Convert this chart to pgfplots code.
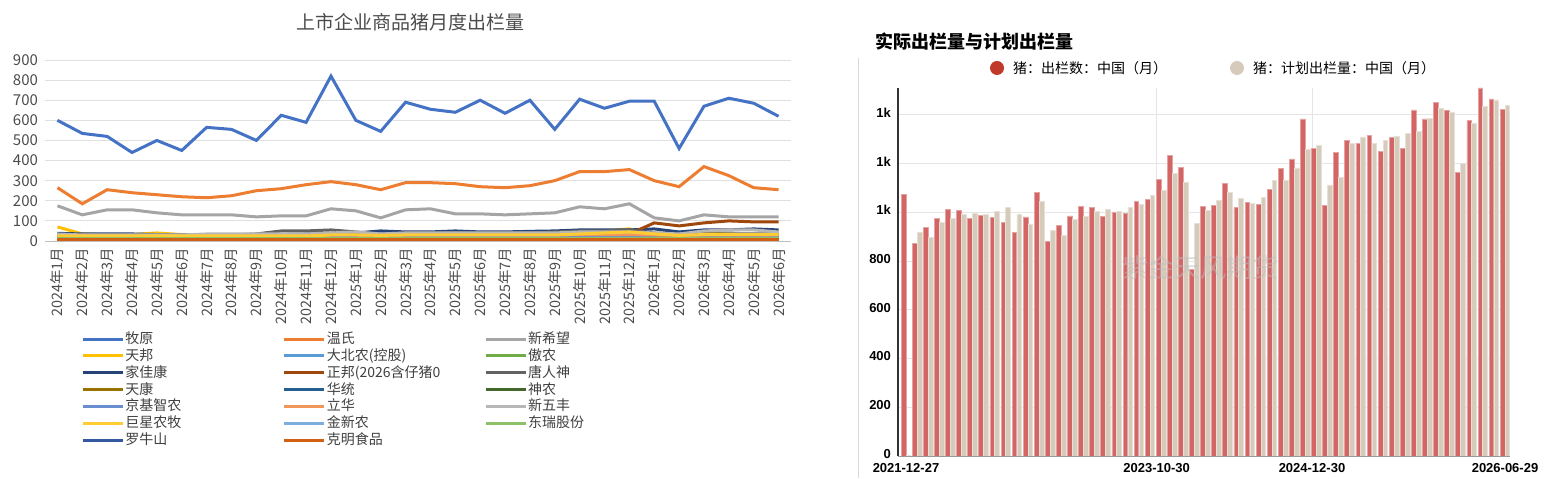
\documentclass[border=0pt]{standalone}
\usepackage{pgfplots}
\pgfplotsset{compat=1.18}
\usepackage{fontspec}
\setmainfont{Noto Sans CJK SC}
\newfontfamily\arial{Liberation Sans}
\definecolor{c1}{HTML}{4472C4}\definecolor{c2}{HTML}{ED7D31}\definecolor{c3}{HTML}{A5A5A5}
\definecolor{c4}{HTML}{FFC000}\definecolor{c5}{HTML}{5B9BD5}\definecolor{c6}{HTML}{70AD47}
\definecolor{c7}{HTML}{264478}\definecolor{c8}{HTML}{9E480E}\definecolor{c9}{HTML}{636363}
\definecolor{c10}{HTML}{997300}\definecolor{c11}{HTML}{255E91}\definecolor{c12}{HTML}{43682B}
\definecolor{c13}{HTML}{698ED0}\definecolor{c14}{HTML}{F1975A}\definecolor{c15}{HTML}{B7B7B7}
\definecolor{c16}{HTML}{FFCD33}\definecolor{c17}{HTML}{7CAFDD}\definecolor{c18}{HTML}{8CC168}
\definecolor{c19}{HTML}{335AA1}\definecolor{c20}{HTML}{D26012}
\definecolor{rbar}{HTML}{D46565}\definecolor{bbar}{HTML}{D6CBBB}\definecolor{rdot}{HTML}{C0392B}
\begin{document}
\begin{tikzpicture}[x=1pt,y=1pt]
\path (0pt,0pt) rectangle (778pt,239pt);
\node[font=\fontsize{9.5}{10}\selectfont, text=black!70] at (205pt,228pt) {上市企业商品猪月度出栏量};
\begin{axis}[name=L, at={(22.5pt,118.5pt)}, anchor=south west, scale only axis,
 width=373pt, height=90.5pt, xmin=-0.5, xmax=29.5, ymin=0, ymax=900,
 ytick={0,100,...,900}, ymajorgrids, grid style={black!12},
 axis line style={draw=none}, axis x line*=bottom, x axis line style={draw=black!25},
 tick style={draw=none}, xtick={0,...,29},
 xticklabels={2024年1月,2024年2月,2024年3月,2024年4月,2024年5月,2024年6月,2024年7月,2024年8月,2024年9月,2024年10月,2024年11月,2024年12月,2025年1月,2025年2月,2025年3月,2025年4月,2025年5月,2025年6月,2025年7月,2025年8月,2025年9月,2025年10月,2025年11月,2025年12月,2026年1月,2026年2月,2026年3月,2026年4月,2026年5月,2026年6月},
 x tick label style={rotate=90, anchor=east, font=\fontsize{7.2}{7}\selectfont, text=black!70},
 y tick label style={font=\fontsize{7.5}{8}\selectfont, text=black!70},
 /pgf/number format/assume math mode=true,
 legend columns=3,
 legend style={at={(0.04,-0.47)}, anchor=north west, draw=none, font=\fontsize{7}{8}\selectfont,
   nodes={text width=78pt, inner sep=0.6pt, text=black!75}, row sep=-0.2pt},
 legend image code/.code={\draw[#1, line width=1.5pt] (0pt,0pt) -- (20pt,0pt);},
 every axis plot/.append style={line width=1.5pt, mark=none},
]
\addplot[c1] coordinates {(0,600)(1,535)(2,520)(3,440)(4,500)(5,450)(6,565)(7,555)(8,500)(9,625)(10,590)(11,820)(12,600)(13,545)(14,690)(15,655)(16,640)(17,700)(18,635)(19,700)(20,555)(21,705)(22,660)(23,695)(24,695)(25,460)(26,670)(27,710)(28,685)(29,620)};
\addplot[c2] coordinates {(0,265)(1,185)(2,255)(3,240)(4,230)(5,220)(6,215)(7,225)(8,250)(9,260)(10,280)(11,295)(12,280)(13,255)(14,290)(15,290)(16,285)(17,270)(18,265)(19,275)(20,300)(21,345)(22,345)(23,355)(24,300)(25,270)(26,370)(27,325)(28,265)(29,255)};
\addplot[c3] coordinates {(0,175)(1,130)(2,155)(3,155)(4,140)(5,130)(6,130)(7,130)(8,120)(9,125)(10,125)(11,160)(12,150)(13,115)(14,155)(15,160)(16,135)(17,135)(18,130)(19,135)(20,140)(21,170)(22,160)(23,185)(24,115)(25,100)(26,130)(27,120)(28,120)(29,120)};
\addplot[c4] coordinates {(0,70)(1,35)(2,30)(3,32)(4,40)(5,32)(6,30)(7,30)(8,30)(9,30)(10,30)(11,30)(12,30)(13,30)(14,32)(15,33)(16,35)(17,35)(18,30)(19,30)(20,35)(21,40)(22,50)(23,60)(24,35)(25,25)(26,40)(27,35)(28,30)(29,28)};
\addplot[c5] coordinates {(0,20)(1,18)(2,18)(3,18)(4,18)(5,18)(6,18)(7,18)(8,18)(9,22)(10,22)(11,22)(12,20)(13,18)(14,20)(15,20)(16,20)(17,20)(18,20)(19,22)(20,22)(21,22)(22,22)(23,22)(24,20)(25,18)(26,20)(27,20)(28,20)(29,20)};
\addplot[c6] coordinates {(0,30)(1,25)(2,22)(3,20)(4,20)(5,20)(6,20)(7,20)(8,20)(9,20)(10,20)(11,20)(12,20)(13,18)(14,20)(15,20)(16,20)(17,20)(18,20)(19,20)(20,20)(21,25)(22,25)(23,30)(24,25)(25,20)(26,25)(27,25)(28,25)(29,25)};
\addplot[c7] coordinates {(0,38)(1,35)(2,35)(3,35)(4,32)(5,30)(6,32)(7,32)(8,32)(9,33)(10,35)(11,38)(12,40)(13,50)(14,45)(15,45)(16,50)(17,45)(18,45)(19,48)(20,50)(21,55)(22,55)(23,55)(24,60)(25,45)(26,55)(27,55)(28,60)(29,55)};
\addplot[c8] coordinates {(0,15)(1,15)(2,15)(3,15)(4,15)(5,15)(6,15)(7,15)(8,15)(9,15)(10,15)(11,15)(12,15)(13,15)(14,15)(15,15)(16,15)(17,15)(18,15)(19,15)(20,15)(21,15)(22,20)(23,35)(24,90)(25,75)(26,90)(27,100)(28,95)(29,95)};
\addplot[c9] coordinates {(0,30)(1,30)(2,30)(3,30)(4,30)(5,30)(6,30)(7,30)(8,35)(9,50)(10,50)(11,55)(12,45)(13,35)(14,40)(15,40)(16,40)(17,40)(18,40)(19,40)(20,45)(21,50)(22,50)(23,55)(24,40)(25,35)(26,35)(27,35)(28,35)(29,35)};
\addplot[c10] coordinates {(0,25)(1,22)(2,22)(3,22)(4,22)(5,22)(6,22)(7,22)(8,22)(9,30)(10,30)(11,30)(12,28)(13,22)(14,25)(15,25)(16,25)(17,25)(18,25)(19,25)(20,28)(21,30)(22,30)(23,35)(24,28)(25,22)(26,28)(27,28)(28,28)(29,28)};
\addplot[c11] coordinates {(0,20)(1,20)(2,20)(3,20)(4,20)(5,20)(6,20)(7,20)(8,20)(9,22)(10,22)(11,22)(12,25)(13,25)(14,28)(15,28)(16,28)(17,28)(18,28)(19,30)(20,30)(21,30)(22,30)(23,30)(24,30)(25,28)(26,30)(27,30)(28,30)(29,30)};
\addplot[c12] coordinates {(0,18)(1,18)(2,18)(3,18)(4,18)(5,18)(6,18)(7,18)(8,18)(9,18)(10,18)(11,18)(12,18)(13,18)(14,18)(15,18)(16,18)(17,18)(18,18)(19,18)(20,20)(21,20)(22,20)(23,20)(24,20)(25,18)(26,20)(27,20)(28,20)(29,20)};
\addplot[c13] coordinates {(0,15)(1,15)(2,15)(3,15)(4,15)(5,15)(6,15)(7,15)(8,15)(9,15)(10,15)(11,15)(12,15)(13,15)(14,15)(15,15)(16,15)(17,15)(18,15)(19,15)(20,15)(21,15)(22,15)(23,15)(24,15)(25,15)(26,15)(27,15)(28,15)(29,15)};
\addplot[c14] coordinates {(0,30)(1,28)(2,28)(3,28)(4,28)(5,28)(6,28)(7,28)(8,28)(9,28)(10,28)(11,30)(12,30)(13,28)(14,30)(15,30)(16,30)(17,30)(18,30)(19,30)(20,30)(21,32)(22,32)(23,32)(24,30)(25,28)(26,30)(27,30)(28,30)(29,30)};
\addplot[c15] coordinates {(0,35)(1,30)(2,30)(3,30)(4,30)(5,30)(6,35)(7,35)(8,35)(9,35)(10,35)(11,40)(12,45)(13,35)(14,40)(15,40)(16,40)(17,40)(18,40)(19,40)(20,40)(21,45)(22,45)(23,45)(24,40)(25,35)(26,50)(27,55)(28,55)(29,45)};
\addplot[c16] coordinates {(0,25)(1,25)(2,25)(3,25)(4,25)(5,25)(6,25)(7,25)(8,25)(9,25)(10,25)(11,30)(12,30)(13,28)(14,30)(15,30)(16,30)(17,30)(18,30)(19,30)(20,30)(21,35)(22,40)(23,45)(24,35)(25,28)(26,32)(27,32)(28,32)(29,32)};
\addplot[c17] coordinates {(0,10)(1,10)(2,10)(3,10)(4,10)(5,10)(6,10)(7,10)(8,10)(9,10)(10,10)(11,10)(12,10)(13,10)(14,10)(15,10)(16,10)(17,10)(18,10)(19,10)(20,10)(21,10)(22,10)(23,10)(24,10)(25,10)(26,10)(27,10)(28,10)(29,10)};
\addplot[c18] coordinates {(0,10)(1,10)(2,10)(3,10)(4,10)(5,10)(6,10)(7,10)(8,10)(9,10)(10,10)(11,10)(12,10)(13,10)(14,10)(15,10)(16,10)(17,10)(18,10)(19,10)(20,10)(21,10)(22,10)(23,10)(24,10)(25,10)(26,10)(27,10)(28,10)(29,10)};
\addplot[c19] coordinates {(0,8)(1,8)(2,8)(3,8)(4,8)(5,8)(6,8)(7,8)(8,8)(9,8)(10,8)(11,8)(12,8)(13,8)(14,8)(15,8)(16,8)(17,8)(18,8)(19,8)(20,8)(21,8)(22,8)(23,8)(24,8)(25,8)(26,8)(27,8)(28,8)(29,8)};
\addplot[c20] coordinates {(0,5)(1,5)(2,5)(3,5)(4,5)(5,5)(6,5)(7,5)(8,5)(9,5)(10,5)(11,5)(12,5)(13,5)(14,5)(15,5)(16,5)(17,5)(18,5)(19,5)(20,5)(21,5)(22,5)(23,5)(24,5)(25,5)(26,5)(27,5)(28,5)(29,5)};
\legend{牧原,温氏,新希望,天邦,大北农(控股),傲农,家佳康,正邦(2026含仔猪0,唐人神,天康,华统,神农,京基智农,立华,新五丰,巨星农牧,金新农,东瑞股份,罗牛山,克明食品}
\end{axis}
% right chart
\draw[black!15] (429pt,0pt) -- (429pt,210pt);
\node[anchor=west, font=\fontsize{9}{10}\selectfont\bfseries] at (434pt,218pt) {实际出栏量与计划出栏量};
\fill[rdot] (498.5pt,205pt) circle (3.5pt);
\node[anchor=west, font=\fontsize{7}{8}\selectfont] at (503pt,205pt) {猪：出栏数：中国（月）};
\fill[bbar] (618.5pt,205pt) circle (3.5pt);
\node[anchor=west, font=\fontsize{7}{8}\selectfont] at (623pt,205pt) {猪：计划出栏量：中国（月）};
\begin{axis}[at={(449pt,11pt)}, anchor=south west, scale only axis, width=306pt, height=184pt,
 xmin=-0.72, xmax=54.45, ymin=0, ymax=1510,
 ytick={0,200,...,1400}, yticklabels={0,200,400,600,800,1k,1k,1k},
 ymajorgrids, grid style={black!10},
 xtick={0,22.6,36.6,54}, xticklabels={2021-12-27,2023-10-30,2024-12-30,2026-06-29},
 extra x ticks={22.6,36.6}, extra x tick labels={}, extra x tick style={grid=major},
 axis x line*=bottom, axis y line*=left, x axis line style={draw=black!40},
 y axis line style={draw=black!80, line width=0.8pt},
 tick style={draw=none},
 x tick label style={font=\arial\bfseries\fontsize{6.5}{7}\selectfont, yshift=0pt},
 y tick label style={font=\arial\bfseries\fontsize{6.5}{7}\selectfont, yshift=1pt},
 /pgf/number format/assume math mode=true,
]
\addplot[ybar, bar width=0.43, bar shift=-0.22, fill=rbar, draw=rbar!60!white] coordinates {
(0,1074)(1,871)(2,939)(3,976)(4,1013)(5,1007)(6,973)(7,987)(8,979)(9,960)(10,917)(11,981)(12,1082)(13,879)(14,947)(15,985)(16,1025)(17,1021)(18,984)(19,999)(20,994)(21,1044)(22,1051)(23,1136)(24,1235)(25,1183)(26,764)(27,1024)(28,1029)(29,1119)(30,1018)(31,1039)(32,1031)(33,1095)(34,1181)(35,1219)(36,1383)(37,1262)(38,1028)(39,1245)(40,1294)(41,1282)(42,1315)(43,1250)(44,1308)(45,1263)(46,1420)(47,1383)(48,1451)(49,1418)(50,1163)(51,1377)(52,1510)(53,1465)(54,1422)};
\addplot[ybar, bar width=0.43, bar shift=0.22, fill=bbar, draw=bbar!60!white] coordinates {
(0,2)(1,916)(2,897)(3,960)(4,973)(5,991)(6,996)(7,992)(8,1003)(9,1018)(10,991)(11,949)(12,1043)(13,925)(14,905)(15,969)(16,983)(17,1002)(18,1010)(19,1002)(20,1018)(21,1031)(22,1069)(23,1091)(24,1158)(25,1121)(26,956)(27,1006)(28,1047)(29,1080)(30,1055)(31,1036)(32,1062)(33,1129)(34,1130)(35,1182)(36,1259)(37,1274)(38,1112)(39,1143)(40,1284)(41,1309)(42,1283)(43,1293)(44,1313)(45,1324)(46,1330)(47,1384)(48,1425)(49,1409)(50,1200)(51,1365)(52,1433)(53,1461)(54,1440)};
\end{axis}
\node[font=\fontsize{13}{13}\selectfont, text=black!25, opacity=0.5] at (600pt,105pt) {紫金天风期货};
\end{tikzpicture}
\end{document}
